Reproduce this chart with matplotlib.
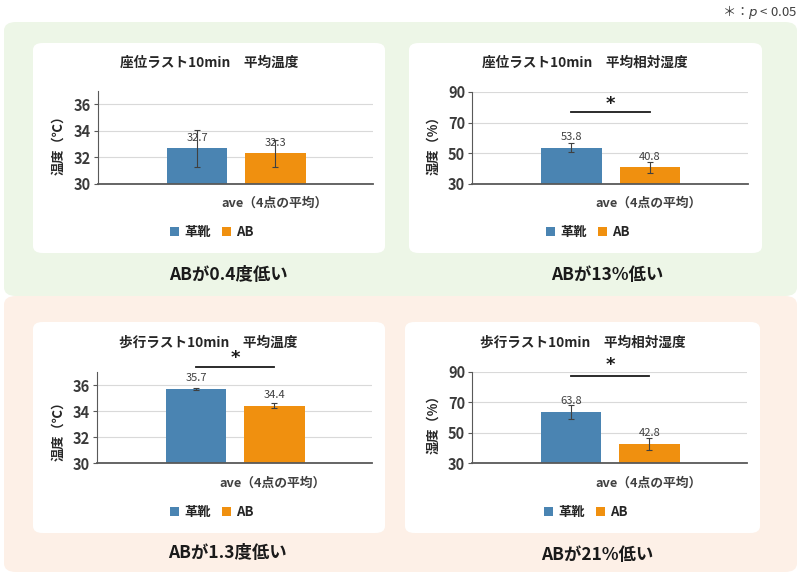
import matplotlib
matplotlib.use('Agg')
import matplotlib.pyplot as plt
from matplotlib.patches import FancyBboxPatch, Patch

plt.rcParams['font.family'] = ['Noto Sans CJK JP', 'DejaVu Sans']

# data
groups = ['革靴', 'AB']
titles = ['座位ラスト10min　平均温度', '座位ラスト10min　平均相対湿度',
          '歩行ラスト10min　平均温度', '歩行ラスト10min　平均相対湿度']
ylabels = ['温度（℃）', '湿度（%）', '温度（℃）', '湿度（%）']
means = [[32.7, 32.3], [53.8, 40.8], [35.7, 34.4], [63.8, 42.8]]
errs = [[1.4, 1.0], [3.0, 3.5], [0.1, 0.2], [4.6, 4.0]]
ylims = [(30, 37), (30, 90), (30, 37), (30, 90)]
yticks = [[30, 32, 34, 36], [30, 50, 70, 90], [30, 32, 34, 36], [30, 50, 70, 90]]
significant = [False, True, True, True]
sig_y = [None, (77, 82.5), (37.35, 38.1), (87.4, 94.3)]
summaries = ['ABが0.4度低い', 'ABが13%低い', 'ABが1.3度低い', 'ABが21%低い']
xlabel = 'ave（4点の平均）'
colors = ['#4a84b2', '#f0900f']

W, H = 802, 576
fig = plt.figure(figsize=(W / 100, H / 100), dpi=100)


def fx(x):
    return x / W


def fy(y):
    return 1 - y / H


def box(x0, y0, x1, y1, color, r=0.012):
    p = FancyBboxPatch((fx(x0), fy(y1)), fx(x1 - x0), (y1 - y0) / H,
                       boxstyle='round,pad=0,rounding_size=%f' % r,
                       transform=fig.transFigure, facecolor=color,
                       edgecolor='none', zorder=-10)
    fig.patches.append(p)


# background bands and white cards
box(4, 22, 797, 296, '#edf6e7', r=0.015)
box(4, 296, 797, 572, '#fdf0e7', r=0.015)
box(33, 43, 385, 253, 'white')
box(409, 43, 762, 253, 'white')
box(33, 322, 385, 533, 'white')
box(405, 322, 760, 533, 'white')

# layout in pixels: axes box, title, xlabel, legend, summary, ylabel
axes_px = [(98, 91, 373, 184), (472, 92, 748, 184),
           (97, 372, 372, 463), (472, 372, 747, 463)]
title_px = [(209, 63), (585, 63), (208, 343), (583, 343)]
xlabel_px = [(275, 203), (649, 203), (273, 483), (649, 483)]
legend_px = [(212, 232), (588, 232), (212, 512), (586, 512)]
summary_px = [(228, 275), (607, 275), (227, 553), (597, 555)]
ylabel_px = [(58, 142), (433, 142), (58, 428), (433, 421)]

offsets = [-0.14, 0.145]

for i in range(4):
    x0, y0, x1, y1 = axes_px[i]
    ax = fig.add_axes([fx(x0), fy(y1), fx(x1 - x0), (y1 - y0) / H])
    ax.set_facecolor('none')
    for j in range(2):
        ax.bar(offsets[j], means[i][j] - ylims[i][0], width=0.22,
               bottom=ylims[i][0], color=colors[j], zorder=3)
        ax.errorbar(offsets[j], means[i][j], yerr=errs[i][j], fmt='none',
                    ecolor='#404040', elinewidth=0.8, capsize=2,
                    capthick=0.8, zorder=4)
        ax.annotate('%.1f' % means[i][j], (offsets[j], means[i][j]),
                    xytext=(0, 4), textcoords='offset points',
                    ha='center', va='bottom', fontsize=8, color='#404040',
                    zorder=5)
    ax.set_xlim(-0.5, 0.5)
    ax.set_ylim(*ylims[i])
    ax.set_yticks(yticks[i])
    ax.set_xticks([])
    ax.tick_params(axis='y', labelsize=10.5, length=3, width=0.8,
                   color='#595959', pad=2)
    for lab in ax.get_yticklabels():
        lab.set_fontweight('bold')
        lab.set_color('#3a3a3a')
    ax.grid(axis='y', color='#d9d9d9', linewidth=0.8, zorder=0)
    ax.spines['top'].set_visible(False)
    ax.spines['right'].set_visible(False)
    ax.spines['left'].set_color('#595959')
    ax.spines['left'].set_linewidth(0.8)
    ax.spines['bottom'].set_color('#595959')
    ax.spines['bottom'].set_linewidth(1.3)
    ax.spines['bottom'].set_zorder(6)

    if significant[i]:
        ly, sy = sig_y[i]
        ax.plot(offsets, [ly, ly], color='#1a1a1a', linewidth=1.3,
                clip_on=False, zorder=6)
        ax.text(sum(offsets) / 2, sy, '*', ha='center', va='center',
                fontsize=13, fontweight='bold', color='#1a1a1a',
                family='DejaVu Sans', clip_on=False)

    tx, ty = title_px[i]
    fig.text(fx(tx), fy(ty), titles[i], ha='center', va='center',
             fontsize=9.8, fontweight='bold', color='#262626')
    tx, ty = xlabel_px[i]
    fig.text(fx(tx), fy(ty), xlabel, ha='center', va='center',
             fontsize=9.2, fontweight='bold', color='#404040')
    tx, ty = ylabel_px[i]
    fig.text(fx(tx), fy(ty), ylabels[i], ha='center', va='center',
             rotation=90, fontsize=9.5, fontweight='bold', color='#262626')
    tx, ty = summary_px[i]
    fig.text(fx(tx), fy(ty), summaries[i], ha='center', va='center',
             fontsize=12.5, fontweight='bold', color='#1a1a1a')

    handles = [Patch(facecolor=colors[k], label=groups[k]) for k in range(2)]
    lx, ly = legend_px[i]
    leg = fig.legend(handles=handles, loc='center',
                     bbox_to_anchor=(fx(lx), fy(ly)), ncol=2, frameon=False,
                     handlelength=0.7, handleheight=0.7, handletextpad=0.4,
                     columnspacing=0.8, prop={'size': 9.5, 'weight': 'bold'})
    for t in leg.get_texts():
        t.set_color('#262626')

fig.text(fx(797), fy(12), '＊：$\\it{p}$ < 0.05', ha='right', va='center',
         fontsize=9.5, color='#404040')

fig.savefig('out.png', dpi=100, facecolor='white')
